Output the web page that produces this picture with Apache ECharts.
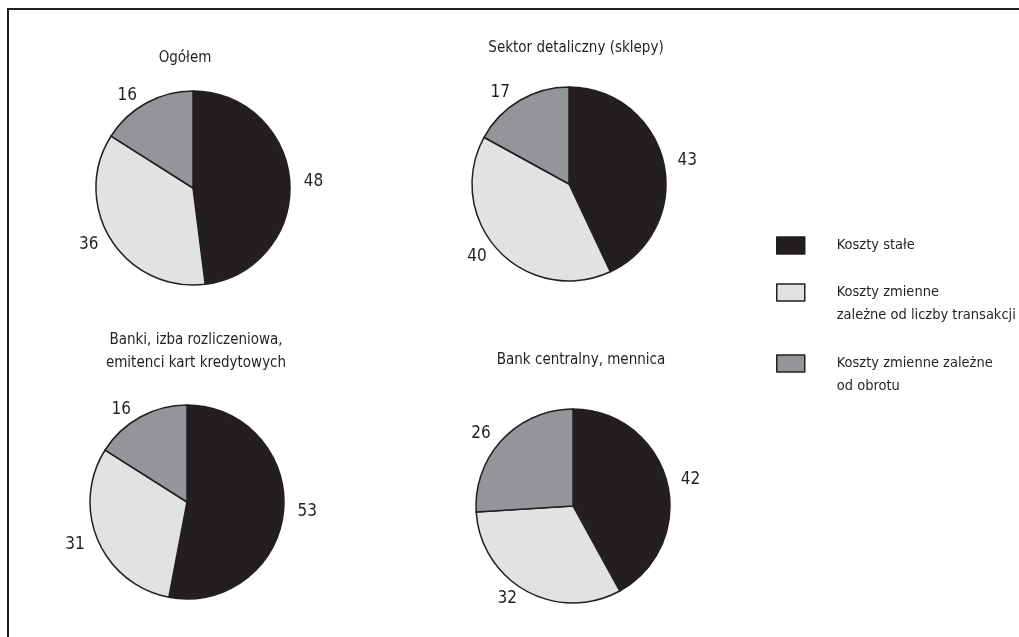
<!DOCTYPE html>
<html><head><meta charset="utf-8">
<script src="https://cdn.jsdelivr.net/npm/echarts@6/dist/echarts.min.js"></script>
<style>html,body{margin:0;padding:0;background:#fff}#c{width:1019px;height:637px}</style>
</head><body><div id="c"></div>
<script>
const categories = ['Koszty stałe', 'Koszty zmienne\nzależne od liczby transakcji', 'Koszty zmienne zależne\nod obrotu'];
const panelTitles = ['Ogółem', 'Sektor detaliczny (sklepy)', 'Banki, izba rozliczeniowa,\nemitenci kart kredytowych', 'Bank centralny, mennica'];
const ogolem = [48, 36, 16];
const sektorDetaliczny = [43, 40, 17];
const banki = [53, 31, 16];
const bankCentralny = [42, 32, 26];

const panelValues = [ogolem, sektorDetaliczny, banki, bankCentralny];
const colors = ['#231f20', '#e1e2e4', '#939598'];
const FONT = "'Liberation Sans Narrow','DejaVu Sans Condensed','Arial Narrow',sans-serif";
const INK = '#231f20';

const centers = [[193, 188], [569, 184], [187, 502], [573, 506]];
const titleCenters = [[185, 47], [576, 37], [196, 329], [581, 349]];

const chart = echarts.init(document.getElementById('c'), null, {renderer: 'canvas'});

const series = panelValues.map((vals, i) => ({
  type: 'pie',
  center: centers[i],
  radius: 97,
  startAngle: 90,
  clockwise: true,
  avoidLabelOverlap: false,
  silent: true,
  itemStyle: {borderColor: INK, borderWidth: 1.5},
  label: {show: true, position: 'outside', formatter: '{c}', color: INK, fontFamily: FONT, fontSize: 17},
  labelLine: {show: false, length: 9, length2: 0},
  emphasis: {disabled: true},
  data: vals.map((v, j) => ({name: categories[j], value: v, itemStyle: {color: colors[j]}}))
}));

const titles = panelTitles.map((t, i) => ({
  text: t,
  left: titleCenters[i][0],
  top: titleCenters[i][1],
  textAlign: 'center',
  padding: 0,
  textStyle: {fontFamily: FONT, fontSize: 15, fontWeight: 'normal', color: INK, lineHeight: 23}
}));

const legendIconTops = [236, 283, 354];
const legends = categories.map((name, i) => {
  const lines = name.split('\n').length;
  const blockH = (lines === 1 ? 1 : lines * 2 - 1) * 23;
  return {
    data: [name],
    orient: 'vertical',
    left: 776,
    top: legendIconTops[i] + 9.5 - blockH / 2,
    padding: 0,
    icon: 'rect',
    itemWidth: 28,
    itemHeight: 17,
    selectedMode: false,
    itemStyle: {borderColor: INK, borderWidth: 1.5},
    formatter: n => (n.indexOf('\n') >= 0 ? '\n'.repeat(n.split('\n').length - 1) + n : n),
    textStyle: {fontFamily: FONT, fontSize: 14.5, color: INK, lineHeight: 23, padding: [0, 0, 0, 27]}
  };
});

chart.setOption({
  animation: false,
  backgroundColor: '#fff',
  title: titles,
  legend: legends,
  series: series,
  graphic: [
    {type: 'polyline', shape: {points: [[8, 637], [8, 9], [1019, 9]]}, style: {stroke: INK, lineWidth: 2, fill: null}, silent: true}
  ]
});
</script></body></html>
